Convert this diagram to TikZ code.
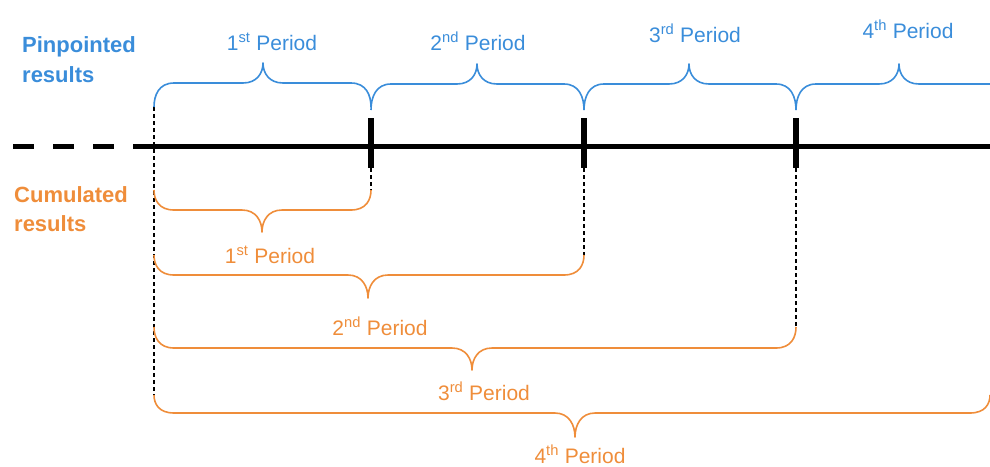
\documentclass[tikz,border=0pt]{standalone}
\usepackage{fontspec}
\setmainfont{Liberation Sans}
\definecolor{pblue}{HTML}{3A8DDA}
\definecolor{corange}{HTML}{EF8D3A}
% #1 colour, #2 x1, #3 x2, #4 xm, #5 yEnd, #6 yH, #7 yTip
\newcommand{\mybrace}[7]{%
  \draw[#1, line width=1.6pt, line join=round]
    (#2,#5) .. controls (#2,{(#5+#6)/2}) and ({#2+5},#6) .. ({#2+20},#6)
    -- ({#4-20},#6) .. controls ({#4-6},#6) and (#4,{(#6+#7)/2}) .. (#4,#7)
    .. controls (#4,{(#6+#7)/2}) and ({#4+6},#6) .. ({#4+20},#6)
    -- ({#3-20},#6) .. controls ({#3-5},#6) and (#3,{(#5+#6)/2}) .. (#3,#5);}
\tikzset{
  plabel/.style={font=\fontsize{21}{24}\selectfont, anchor=base, inner sep=0pt},
  sidelabel/.style={font=\fontsize{22}{30}\selectfont\bfseries, anchor=base west, inner sep=0pt},
  tick/.style={line width=6pt},
  guide/.style={line width=1.3pt, dash pattern=on 4pt off 3pt},
}
\begin{document}
\begin{tikzpicture}[x=1pt,y=-1pt]
\useasboundingbox (0,0) rectangle (990,466);
\clip (0,0) rectangle (990,466);
% coordinates
\coordinate (t1a) at (371,118); \coordinate (t1b) at (371,168);
\coordinate (t2a) at (584,118); \coordinate (t2b) at (584,168);
\coordinate (t3a) at (796,118); \coordinate (t3b) at (796,168);
\coordinate (l0) at (13,146); \coordinate (l1) at (133,146); \coordinate (l2) at (990,146);
% main line
\draw[line width=5pt, dash pattern=on 21pt off 19pt] (l0) -- (l1);
\draw[line width=5pt] (l1) -- (l2);
\draw[tick] (t1a) -- (t1b);
\draw[tick] (t2a) -- (t2b);
\draw[tick] (t3a) -- (t3b);
% guides
\coordinate (g0a) at (154,107); \coordinate (g0b) at (154,395);
\coordinate (g1) at (371,190); \coordinate (g2) at (584,255); \coordinate (g3) at (796,326);
\draw[guide] (g0a) -- (g0b);
\draw[guide] (t1b) -- (g1);
\draw[guide] (t2b) -- (g2);
\draw[guide] (t3b) -- (g3);
% blue braces
\mybrace{pblue}{154}{371}{263}{107}{83}{63}
\mybrace{pblue}{371}{584}{477}{110}{84}{64}
\mybrace{pblue}{584}{796}{689}{110}{84}{64}
\mybrace{pblue}{796}{1010}{899}{110}{84}{64}
% orange braces
\mybrace{corange}{154}{371}{262}{190}{210}{232}
\mybrace{corange}{154}{584}{368}{255}{275}{298}
\mybrace{corange}{154}{796}{472}{327}{348}{370}
\mybrace{corange}{154}{990}{575}{395}{413}{437}
% labels
\node[sidelabel, text=pblue] (pin1) at (22,52) {Pinpointed};
\node[sidelabel, text=pblue] (pin2) at (22,82) {results};
\node[sidelabel, text=corange] (cum1) at (14,202) {Cumulated};
\node[sidelabel, text=corange] (cum2) at (14,231) {results};
\node[plabel, text=pblue] (b1) at (272,50) {1\textsuperscript{st} Period};
\node[plabel, text=pblue] (b2) at (478,50) {2\textsuperscript{nd} Period};
\node[plabel, text=pblue] (b3) at (695,42) {3\textsuperscript{rd} Period};
\node[plabel, text=pblue] (b4) at (908,38) {4\textsuperscript{th} Period};
\node[plabel, text=corange] (o1) at (270,263) {1\textsuperscript{st} Period};
\node[plabel, text=corange] (o2) at (380,335) {2\textsuperscript{nd} Period};
\node[plabel, text=corange] (o3) at (484,400) {3\textsuperscript{rd} Period};
\node[plabel, text=corange] (o4) at (580,463) {4\textsuperscript{th} Period};
\end{tikzpicture}
\end{document}
